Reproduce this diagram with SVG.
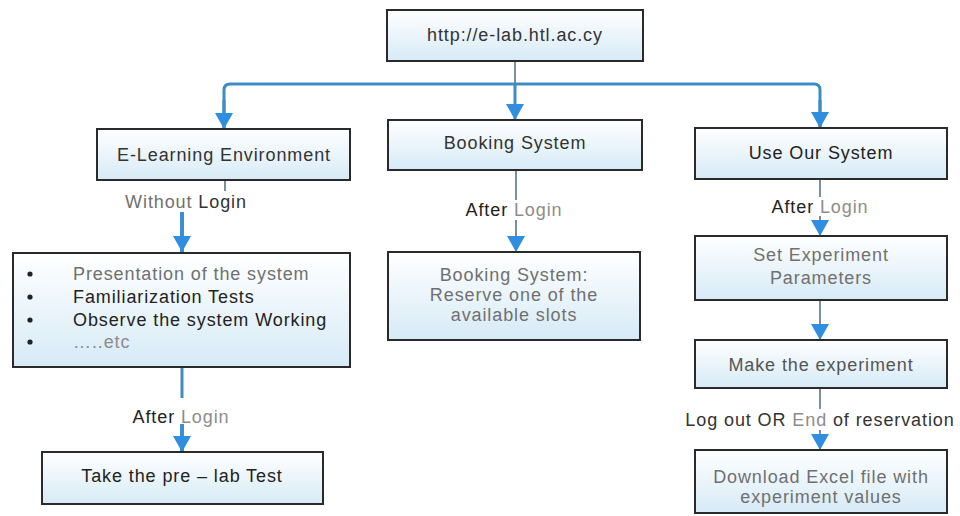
<svg xmlns="http://www.w3.org/2000/svg" width="960" height="516" viewBox="0 0 960 516">
<defs>
<linearGradient id="bx" x1="0" y1="0" x2="0" y2="1">
<stop offset="0" stop-color="#ffffff"/>
<stop offset="1" stop-color="#d6eaf6"/>
</linearGradient>
<marker id="ah" viewBox="0 0 16 18" refX="16" refY="9" markerWidth="16" markerHeight="18" markerUnits="userSpaceOnUse" orient="auto">
<path d="M0 0 L16 9 L0 18 Z" fill="#2f8ee0"/>
</marker>
<style>
.box{fill:url(#bx);stroke:#2a2a2a;stroke-width:2}
text{font-family:"Liberation Sans",Arial,sans-serif;font-size:18px;letter-spacing:0.9px;fill:#333}
.c{text-anchor:middle}
.dk{fill:#222}
.gr{fill:#707070}
.lg{fill:#8c8c8c}
.ln{fill:none;stroke:#3e8cc4;stroke-width:3}
.tk{fill:none;stroke:#7a8f9e;stroke-width:2}
.ar{fill:none;stroke:#3a8fd6;stroke-width:4}
</style>
</defs>
<rect width="960" height="516" fill="#ffffff"/>
<g id="connectors">
<line class="tk" x1="515" y1="61" x2="515" y2="84"/>
<path class="ln" d="M224 129 V90 Q224 84 230 84 H814 Q820 84 820 90 V128"/>
<line class="ln" x1="224" y1="100" x2="224" y2="129" marker-end="url(#ah)"/>
<line class="ln" x1="515" y1="84" x2="515" y2="120" marker-end="url(#ah)"/>
<line class="ln" x1="820" y1="100" x2="820" y2="128" marker-end="url(#ah)"/>
<line class="tk" x1="225" y1="181" x2="225" y2="191"/>
<line class="ar" x1="182" y1="212" x2="182" y2="252" marker-end="url(#ah)"/>
<line class="ln" x1="182" y1="368" x2="182" y2="398"/>
<line class="ar" x1="182" y1="424" x2="182" y2="452" marker-end="url(#ah)"/>
<line class="tk" x1="516" y1="171" x2="516" y2="200"/>
<line class="tk" x1="516" y1="220" x2="516" y2="252" marker-end="url(#ah)"/>
<line class="tk" x1="820" y1="180" x2="820" y2="197"/>
<line class="tk" x1="820" y1="216" x2="820" y2="236" marker-end="url(#ah)"/>
<line class="tk" x1="820" y1="301" x2="820" y2="340" marker-end="url(#ah)"/>
<line class="tk" x1="820" y1="389" x2="820" y2="409"/>
<line class="tk" x1="820" y1="430" x2="820" y2="450" marker-end="url(#ah)"/>
</g>
<g id="n-url">
<rect class="box" x="387" y="10" width="256" height="51"/>
<text class="c" x="515" y="41">http://e-lab.htl.ac.cy</text>
</g>
<g id="n-elearning">
<rect class="box" x="97" y="129" width="253" height="51"/>
<text class="c" x="224" y="161">E-Learning Environment</text>
</g>
<g id="n-booking">
<rect class="box" x="388" y="120" width="254" height="50"/>
<text class="c" x="515" y="149">Booking System</text>
</g>
<g id="n-useour">
<rect class="box" x="695" y="128" width="252" height="51"/>
<text class="c dk" x="821" y="159">Use Our System</text>
</g>
<g id="l-without">
<text class="c" x="186" y="208"><tspan class="gr">Without</tspan> Login</text>
</g>
<g id="n-features">
<rect class="box" x="13" y="253" width="337" height="114"/>
<circle cx="30" cy="274" r="2.6" fill="#222"/>
<circle cx="30" cy="297" r="2.6" fill="#222"/>
<circle cx="30" cy="320" r="2.6" fill="#222"/>
<circle cx="30" cy="342" r="2.6" fill="#222"/>
<text class="gr" x="73" y="280">Presentation of the system</text>
<text class="dk" x="73" y="303">Familiarization Tests</text>
<text class="dk" x="73" y="326">Observe the system Working</text>
<text class="lg" x="73" y="348">…..etc</text>
</g>
<g id="l-after1">
<text class="c dk" x="181" y="423">After <tspan class="lg">Login</tspan></text>
</g>
<g id="n-prelab">
<rect class="box" x="42" y="452" width="281" height="52"/>
<text class="c dk" x="182" y="482">Take the pre – lab Test</text>
</g>
<g id="l-after2">
<text class="c dk" x="514" y="216">After <tspan class="lg">Login</tspan></text>
</g>
<g id="n-reserve">
<rect class="box" x="388" y="252" width="252" height="88"/>
<text class="c gr" x="514" y="281">Booking System:</text>
<text class="c gr" x="514" y="301">Reserve one of the</text>
<text class="c gr" x="514" y="321">available slots</text>
</g>
<g id="l-after3">
<text class="c dk" x="820" y="213">After <tspan class="lg">Login</tspan></text>
</g>
<g id="n-params">
<rect class="box" x="695" y="236" width="252" height="64"/>
<text class="c gr" x="821" y="261">Set Experiment</text>
<text class="c gr" x="821" y="284">Parameters</text>
</g>
<g id="n-make">
<rect class="box" x="695" y="340" width="252" height="48"/>
<text class="c" x="821" y="371" style="fill:#555">Make the experiment</text>
</g>
<g id="l-logout">
<text class="c" x="820" y="426">Log out OR <tspan class="lg">End</tspan> of reservation</text>
</g>
<g id="n-download">
<rect class="box" x="695" y="450" width="252" height="63"/>
<text class="c gr" x="821" y="483">Download Excel file with</text>
<text class="c gr" x="821" y="503">experiment values</text>
</g>
</svg>
